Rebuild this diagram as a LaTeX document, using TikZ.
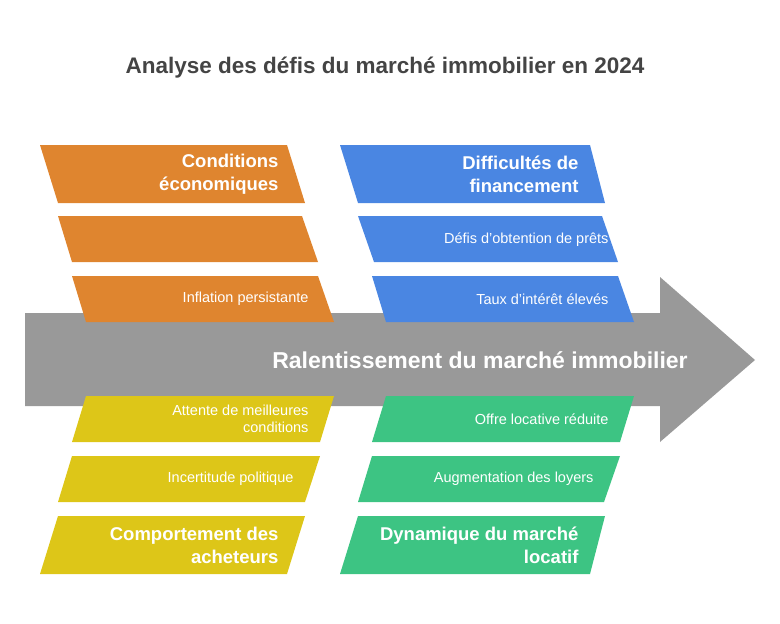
\documentclass[tikz,border=0pt]{standalone}
\usepackage{fontspec}
\setmainfont{Liberation Sans}
\definecolor{orangebox}{HTML}{DF852F}
\definecolor{bluebox}{HTML}{4A86E2}
\definecolor{yellowbox}{HTML}{DDC618}
\definecolor{greenbox}{HTML}{3DC483}
\definecolor{spine}{HTML}{999999}
\definecolor{titlegray}{HTML}{444444}
\tikzset{
  small/.style={text=white, font=\fontsize{14.5}{17}\selectfont, anchor=east, align=right},
  big/.style={text=white, font=\bfseries\fontsize{18.5}{23}\selectfont, anchor=east, align=right},
}
\begin{document}
\begin{tikzpicture}[x=1pt, y=-1pt]
            \useasboundingbox (0,0) rectangle (780,624);
            \node[text=titlegray, font=\bfseries\fontsize{22.5}{26}\selectfont] (title) at (385,68) {Analyse des défis du marché immobilier en 2024};

            % spine arrow
            \fill[spine] (25,313) -- (660,313) -- (660,277) -- (755,360) -- (660,442) -- (660,406) -- (25,406) -- cycle;
            \node[text=white, font=\bfseries\fontsize{23}{27}\selectfont] (head) at (480,360) {Ralentissement du marché immobilier};

            % upper left
            \fill[orangebox] (40,145) -- (287,145) -- (305,203) -- (58,203) -- cycle;
            \fill[orangebox] (58,216) -- (302,216) -- (318,262) -- (72,262) -- cycle;
            \fill[orangebox] (72,276) -- (318,276) -- (334,322) -- (86,322) -- cycle;
            \node[big] (eco) at (282,174) {Conditions\\économiques};
            \node[small] (inf) at (312,299) {Inflation persistante};

            % upper right
            \fill[bluebox] (340,145) -- (590,145) -- (605,203) -- (358,203) -- cycle;
            \fill[bluebox] (358,216) -- (602,216) -- (618,262) -- (374,262) -- cycle;
            \fill[bluebox] (372,276) -- (618,276) -- (634,322) -- (386,322) -- cycle;
            \node[big] (fin) at (582,174) {Difficultés de\\financement};
            \node[small] (pret) at (612,240) {Défis d'obtention de prêts};
            \node[small] (taux) at (612,299) {Taux d'intérêt élevés};

            % lower left
            \fill[yellowbox] (86,396) -- (334,396) -- (320,442) -- (72,442) -- cycle;
            \fill[yellowbox] (72,456) -- (320,456) -- (305,502) -- (58,502) -- cycle;
            \fill[yellowbox] (58,516) -- (305,516) -- (287,574) -- (40,574) -- cycle;
            \node[small] (att) at (312,419) {Attente de meilleures\\conditions};
            \node[small] (pol) at (297,479) {Incertitude politique};
            \node[big] (comp) at (282,545) {Comportement des\\acheteurs};

            % lower right
            \fill[greenbox] (386,396) -- (634,396) -- (620,442) -- (372,442) -- cycle;
            \fill[greenbox] (372,456) -- (620,456) -- (604,502) -- (358,502) -- cycle;
            \fill[greenbox] (358,516) -- (605,516) -- (590,574) -- (340,574) -- cycle;
            \node[small] (offre) at (612,419) {Offre locative réduite};
            \node[small] (loyer) at (597,479) {Augmentation des loyers};
            \node[big] (dyn) at (582,545) {Dynamique du marché\\locatif};
        \end{tikzpicture}
\end{document}
